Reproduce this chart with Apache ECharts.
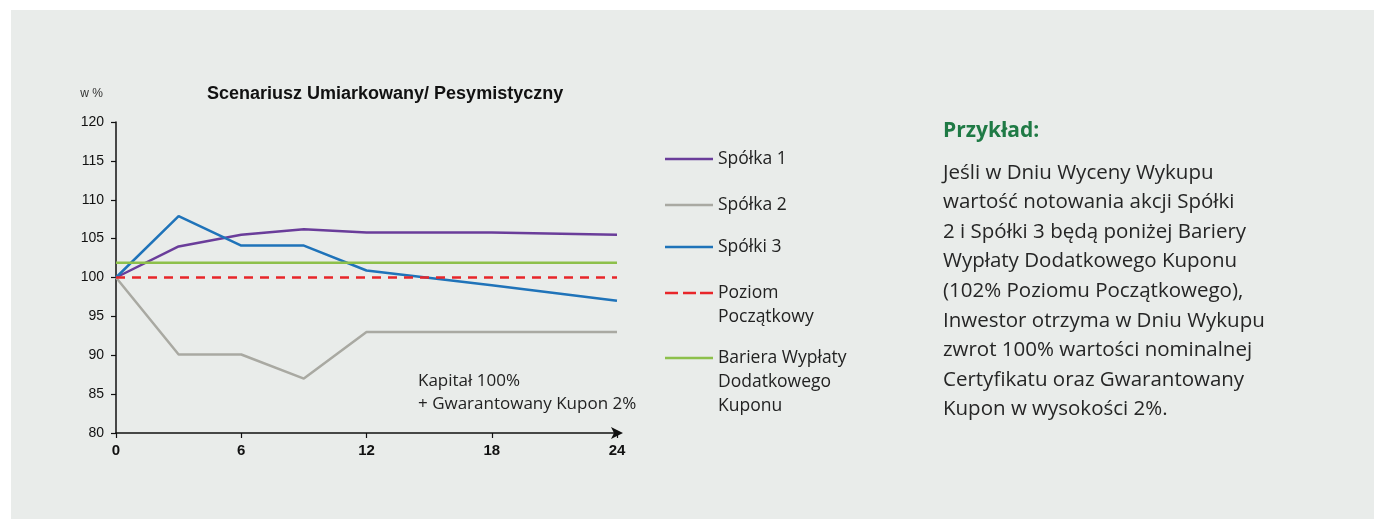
<!DOCTYPE html>
<html>
<head>
<meta charset="utf-8">
<script src="https://cdn.jsdelivr.net/npm/echarts@6/dist/echarts.min.js"></script>
<style>
  html, body { margin: 0; padding: 0; background: #ffffff; }
  #chart { position: absolute; left: 11px; top: 10px; width: 1363px; height: 509px; background: #e9ecea; }
</style>
</head>
<body>
<div id="chart"></div>
<script>
// months on the x axis
const months = [0, 3, 6, 9, 12, 18, 24];
const spolka1 = [100, 104, 105.5, 106.2, 105.8, 105.8, 105.5];
const spolka2 = [100, 90.1, 90.1, 87, 93, 93, 93];
const spolka3 = [100, 107.9, 104.1, 104.1, 100.9, 99, 97];
const levelMonths = [0, 24];
const poziom = [100, 100];
const bariera = [101.9, 101.9];

const seriesNames = ['Spółka 1', 'Spółka 2', 'Spółki 3', 'Poziom Początkowy', 'Bariera Wypłaty Dodatkowego Kuponu'];
const legendLabels = ['Spółka 1', 'Spółka 2', 'Spółki 3', 'Poziom\nPoczątkowy', 'Bariera Wypłaty\nDodatkowego\nKuponu'];
const colors = ['#6a3d9a', '#a9a9a2', '#1f73b9', '#e8262a', '#8dc04b'];
const xTicks = [0, 6, 12, 18, 24];

const noteLines = ['Kapitał 100%', '+ Gwarantowany Kupon 2%'];
const exampleTitle = 'Przykład:';
const exampleLines = [
  'Jeśli w Dniu Wyceny Wykupu',
  'wartość notowania akcji Spółki',
  '2 i Spółki 3 będą poniżej Bariery',
  'Wypłaty Dodatkowego Kuponu',
  '(102% Poziomu Początkowego),',
  'Inwestor otrzyma w Dniu Wykupu',
  'zwrot 100% wartości nominalnej',
  'Certyfikatu oraz Gwarantowany',
  'Kupon w wysokości 2%.'
];

function pairs(xs, ys) {
  return xs.map((x, i) => [x, ys[i]]);
}

const seriesData = [
  pairs(months, spolka1),
  pairs(months, spolka2),
  pairs(months, spolka3),
  pairs(levelMonths, poziom),
  pairs(levelMonths, bariera)
];

// top of the first text line of each legend entry (page coords)
const legendTops = [147, 193, 235, 281, 346];
const LH = 24;

// legend icon: line sits on the first text line, box is as tall as the text
function legendIcon(lines, dashed) {
  const h = lines * LH;
  const y0 = 10.8, y1 = 13.2;
  let p = 'path://M0,0 L0.001,0 L0,0.001 Z ';
  if (dashed) {
    [[0, 13], [18, 31], [35, 48]].forEach(d => {
      p += `M${d[0]},${y0} L${d[1]},${y0} L${d[1]},${y1} L${d[0]},${y1} Z `;
    });
  } else {
    p += `M0,${y0} L48,${y0} L48,${y1} L0,${y1} Z `;
  }
  p += `M48,${h} L47.999,${h} L48,${h - 0.001} Z`;
  return p;
}

const chart = echarts.init(document.getElementById('chart'));

const legends = seriesNames.map((name, i) => {
  const lines = legendLabels[i].split('\n').length;
  return {
    orient: 'vertical',
    left: 654,
    top: legendTops[i] - 10,
    padding: 0,
    itemWidth: 48,
    itemHeight: lines * LH,
    itemGap: 0,
    data: [{ name: name, icon: legendIcon(lines, i === 3) }],
    formatter: () => legendLabels[i],
    textStyle: {
      fontFamily: 'Open Sans',
      fontSize: 17.5,
      color: '#222',
      lineHeight: LH
    }
  };
});

const series = seriesNames.map((name, i) => ({
  name: name,
  type: 'line',
  data: seriesData[i],
  showSymbol: false,
  symbol: 'none',
  color: colors[i],
  lineStyle: {
    width: 2.5,
    color: colors[i],
    type: i === 3 ? [9, 7] : 'solid'
  },
  z: i === 3 ? 3 : 2
}));

chart.setOption({
  backgroundColor: 'transparent',
  animation: false,
  textStyle: { fontFamily: 'Liberation Sans' },
  title: {
    text: 'Scenariusz Umiarkowany/ Pesymistyczny',
    left: 196,
    top: 75,
    padding: 0,
    textStyle: { fontFamily: 'Liberation Sans', fontSize: 18, fontWeight: 'bold', color: '#111' }
  },
  grid: { left: 105, right: 757, top: 112, bottom: 86, containLabel: false },
  legend: legends,
  xAxis: {
    type: 'value',
    min: 0,
    max: 24,
    interval: 6,
    axisLine: {
      show: true,
      lineStyle: { color: '#111', width: 1.5 },
      symbol: ['none', 'arrow'],
      symbolSize: [9, 12],
      symbolOffset: [0, 6]
    },
    axisTick: { show: true, length: 5, lineStyle: { color: '#111', width: 1.2 } },
    axisLabel: {
      fontSize: 15, fontWeight: 'bold', color: '#111', margin: 10,
      customValues: xTicks
    },
    splitLine: { show: false }
  },
  yAxis: {
    type: 'value',
    min: 80,
    max: 120,
    interval: 5,
    name: 'w %',
    nameLocation: 'end',
    nameGap: 22,
    nameTextStyle: { fontSize: 12, color: '#333', align: 'right', padding: [0, 13, 0, 0] },
    axisLine: { show: true, lineStyle: { color: '#111', width: 1.5 } },
    axisTick: { show: true, length: 5, lineStyle: { color: '#111', width: 1.2 } },
    axisLabel: { fontSize: 14, color: '#111', margin: 12 },
    splitLine: { show: false }
  },
  graphic: [
    {
      type: 'text',
      left: 407,
      top: 360,
      style: {
        text: noteLines.join('\n'),
        fontFamily: 'Open Sans',
        fontSize: 17,
        lineHeight: 23,
        fill: '#222'
      }
    },
    {
      type: 'text',
      left: 932,
      top: 111,
      style: {
        text: exampleTitle,
        fontFamily: 'Open Sans',
        fontSize: 21,
        fontWeight: 'bold',
        fill: '#1f7a45'
      }
    },
    {
      type: 'text',
      left: 932,
      top: 148,
      style: {
        text: exampleLines.join('\n'),
        fontFamily: 'Open Sans',
        fontSize: 20.5,
        lineHeight: 29.6,
        fill: '#262626'
      }
    }
  ],
  series: series
});
</script>
</body>
</html>
